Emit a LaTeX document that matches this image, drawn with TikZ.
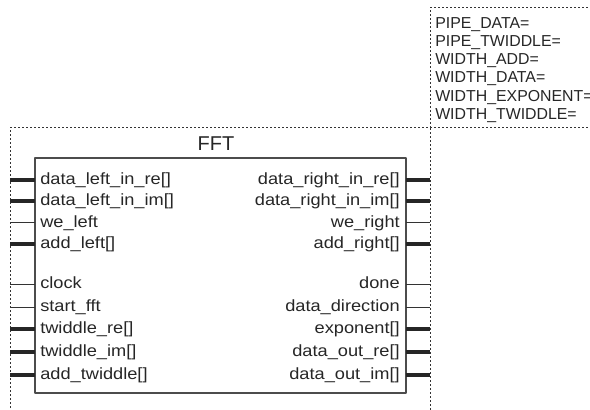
\documentclass[tikz,border=0pt]{standalone}
\usepackage{fontspec}
\setmainfont{Liberation Sans}
\newfontfamily\pinfont[FakeStretch=1.12]{Liberation Sans}
\tikzset{
  every picture/.style={line join=round, line cap=butt},
  sig/.style={line width=0.75pt, draw=black!80},
  bus/.style={line width=3pt, draw=black!85},
  portin/.style={anchor=west, inner sep=0pt, text height=0.716em, text depth=0pt,
    font=\pinfont\fontsize{12.2}{14}\selectfont, text=black!85},
  portout/.style={portin, anchor=east},
  frame/.style={line width=0.75pt, draw=black!80, dash pattern=on 1.5pt off 1.5pt},
}

\begin{document}
\begin{tikzpicture}[x=0.75pt, y=-0.75pt]
\useasboundingbox (0,0) rectangle (590,410);
% dotted outline of the instance and its parameter box
\draw[frame] (10,440) -- (10,128) coordinate (frl) -- (430,128) coordinate (frr) -- (430,440);
\draw[frame] (430,128) -- (430,8) -- (620,8);
\draw[frame] (430,128) -- (620,128);
\node[anchor=north west, inner sep=0pt, align=left, text=black!85,
  font=\fontsize{11.9}{13.7}\selectfont] (params) at (435,17)
  {PIPE\_DATA=\\PIPE\_TWIDDLE=\\WIDTH\_ADD=\\WIDTH\_DATA=\\WIDTH\_EXPONENT=\\WIDTH\_TWIDDLE=};
% the block
\node[text=black!85, font=\fontsize{15}{18}\selectfont] (title) at (216,144) {FFT};
\draw[line width=1pt, draw=black!70] (35,158) coordinate (bxnw) rectangle (406,393) coordinate (bxse);
% inputs
\node[portin] (dlre) at (40,180) {data\_left\_in\_re[]};
\node[portin] (dlim) at (40,201) {data\_left\_in\_im[]};
\node[portin] (wel)  at (40,223) {we\_left};
\node[portin] (addl) at (40,244) {add\_left[]};
\node[portin] (clk)  at (40,284) {clock};
\node[portin] (strt) at (40,307) {start\_fft};
\node[portin] (twre) at (40,329) {twiddle\_re[]};
\node[portin] (twim) at (40,352) {twiddle\_im[]};
\node[portin] (addt) at (40,375) {add\_twiddle[]};
% outputs
\node[portout] (drre) at (400,180) {data\_right\_in\_re[]};
\node[portout] (drim) at (400,201) {data\_right\_in\_im[]};
\node[portout] (wer)  at (400,223) {we\_right};
\node[portout] (addr) at (400,244) {add\_right[]};
\node[portout] (done) at (400,284) {done};
\node[portout] (ddir) at (400,307) {data\_direction};
\node[portout] (expo) at (400,329) {exponent[]};
\node[portout] (dore) at (400,352) {data\_out\_re[]};
\node[portout] (doim) at (400,375) {data\_out\_im[]};
% pins on the left
\draw[bus] (bxnw |- dlre) -- (frl |- dlre);
\draw[bus] (bxnw |- dlim) -- (frl |- dlim);
\draw[sig] (bxnw |- wel)  -- (frl |- wel);
\draw[bus] (bxnw |- addl) -- (frl |- addl);
\draw[sig] (bxnw |- clk)  -- (frl |- clk);
\draw[sig] (bxnw |- strt) -- (frl |- strt);
\draw[bus] (bxnw |- twre) -- (frl |- twre);
\draw[bus] (bxnw |- twim) -- (frl |- twim);
\draw[bus] (bxnw |- addt) -- (frl |- addt);
% pins on the right
\draw[bus] (bxse |- drre) -- (frr |- drre);
\draw[bus] (bxse |- drim) -- (frr |- drim);
\draw[sig] (bxse |- wer)  -- (frr |- wer);
\draw[bus] (bxse |- addr) -- (frr |- addr);
\draw[sig] (bxse |- done) -- (frr |- done);
\draw[sig] (bxse |- ddir) -- (frr |- ddir);
\draw[bus] (bxse |- expo) -- (frr |- expo);
\draw[bus] (bxse |- dore) -- (frr |- dore);
\draw[bus] (bxse |- doim) -- (frr |- doim);
\end{tikzpicture}
\end{document}
